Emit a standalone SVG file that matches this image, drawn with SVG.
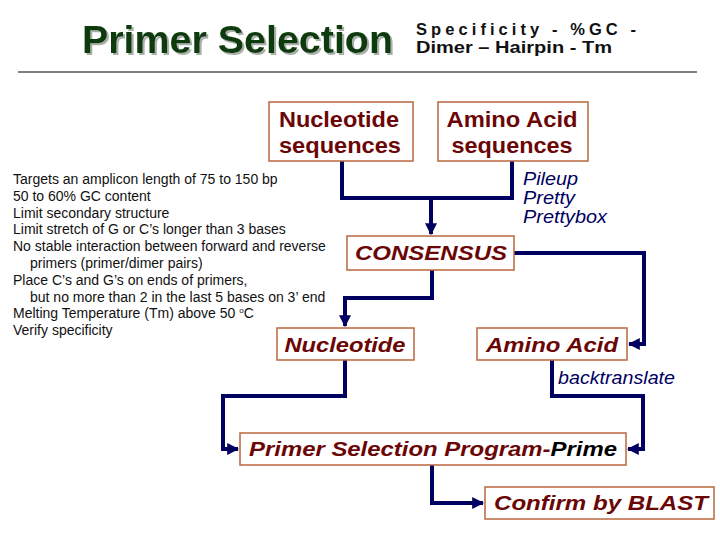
<svg xmlns="http://www.w3.org/2000/svg" width="720" height="540" viewBox="0 0 720 540">
<defs>
<marker id="ah" viewBox="0 0 10 10" refX="9" refY="5" markerWidth="3" markerHeight="3" orient="auto" markerUnits="strokeWidth">
<path d="M0,0 L10,5 L0,10 z" fill="#000060"/>
</marker>
<filter id="sh" x="-5%" y="-20%" width="110%" height="140%">
<feDropShadow dx="2" dy="2" stdDeviation="0.6" flood-color="#a8b0a8" flood-opacity="1"/>
</filter>
<style>
.box{fill:#fff;stroke:#b8683f;stroke-width:1.5}
.nt{font-family:"Liberation Sans",Arial,sans-serif;font-size:22px;font-weight:bold;fill:#6b0606;text-anchor:middle}
.bi{font-family:"Liberation Sans",Arial,sans-serif;font-size:21px;font-weight:bold;font-style:italic;fill:#6b0606;text-anchor:middle}
.con{fill:none;stroke:#000060;stroke-width:4}
.lbl{font-family:"Liberation Sans",Arial,sans-serif;font-size:18px;font-style:italic;fill:#000060}
.lst{font-family:"Liberation Sans",Arial,sans-serif;font-size:14px;fill:#111}
.sub{font-family:"Liberation Sans Narrow","Liberation Sans",Arial,sans-serif;font-size:16.5px;font-weight:bold;fill:#111}
</style>
</defs>
<rect width="720" height="540" fill="#fff"/>
<g id="title">
<text x="82" y="53" font-family="Liberation Sans,Arial,sans-serif" font-size="39" font-weight="bold" fill="#0b3a0b" textLength="311" lengthAdjust="spacingAndGlyphs" filter="url(#sh)">Primer Selection</text>
<text class="sub" x="416" y="34.5" textLength="220" lengthAdjust="spacing">Specificity - %GC -</text>
<text class="sub" x="416" y="53" textLength="196" lengthAdjust="spacingAndGlyphs">Dimer – Hairpin - Tm</text>
<line x1="18" y1="72" x2="697" y2="72" stroke="#000" stroke-width="1.2"/>
</g>
<g id="criteria">
<text class="lst" x="13" y="184">Targets an amplicon length of 75 to 150 bp</text>
<text class="lst" x="13" y="200.8">50 to 60% GC content</text>
<text class="lst" x="13" y="217.6">Limit secondary structure</text>
<text class="lst" x="13" y="234.4">Limit stretch of G or C’s longer than 3 bases</text>
<text class="lst" x="13" y="251.2">No stable interaction between forward and reverse</text>
<text class="lst" x="30" y="268">primers (primer/dimer pairs)</text>
<text class="lst" x="13" y="284.8">Place C’s and G’s on ends of primers,</text>
<text class="lst" x="30" y="301.6">but no more than 2 in the last 5 bases on 3’ end</text>
<text class="lst" x="13" y="318.4">Melting Temperature (Tm) above 50 <tspan font-size="8" dy="-5">o</tspan><tspan dy="5">C</tspan></text>
<text class="lst" x="13" y="335.2">Verify specificity</text>
</g>
<g id="connectors">
<polyline class="con" points="342,161 342,198 512,198 512,161"/>
<polyline class="con" points="431,198 431,234" marker-end="url(#ah)"/>
<polyline class="con" points="514,253 644,253 644,344 629,344" marker-end="url(#ah)"/>
<polyline class="con" points="432,270 432,298 345,298 345,326" marker-end="url(#ah)"/>
<polyline class="con" points="345,360 345,396 223,396 223,449 238,449" marker-end="url(#ah)"/>
<polyline class="con" points="552,360 552,396 643,396 643,449 628,449" marker-end="url(#ah)"/>
<polyline class="con" points="432,465 432,503 483,503" marker-end="url(#ah)"/>
</g>
<g id="labels">
<text class="lbl" x="523" y="185" textLength="55" lengthAdjust="spacingAndGlyphs">Pileup</text>
<text class="lbl" x="523" y="204" textLength="52" lengthAdjust="spacingAndGlyphs">Pretty</text>
<text class="lbl" x="523" y="223" textLength="84" lengthAdjust="spacingAndGlyphs">Prettybox</text>
<text class="lbl" x="558" y="384" textLength="117" lengthAdjust="spacingAndGlyphs">backtranslate</text>
</g>
<g id="nuc-seq">
<rect class="box" x="269" y="102" width="144" height="59"/>
<text class="nt" x="339" y="127" textLength="120" lengthAdjust="spacingAndGlyphs">Nucleotide</text>
<text class="nt" x="340" y="153" textLength="122" lengthAdjust="spacingAndGlyphs">sequences</text>
</g>
<g id="aa-seq">
<rect class="box" x="438" y="102" width="150" height="59"/>
<text class="nt" x="512" y="127" textLength="131" lengthAdjust="spacingAndGlyphs">Amino Acid</text>
<text class="nt" x="512" y="153" textLength="121" lengthAdjust="spacingAndGlyphs">sequences</text>
</g>
<g id="consensus">
<rect class="box" x="347" y="236" width="167" height="34"/>
<text class="bi" x="431" y="260" textLength="152" lengthAdjust="spacingAndGlyphs">CONSENSUS</text>
</g>
<g id="nucleotide">
<rect class="box" x="277" y="328" width="137" height="32"/>
<text class="bi" x="345" y="352" textLength="121" lengthAdjust="spacingAndGlyphs">Nucleotide</text>
</g>
<g id="amino-acid">
<rect class="box" x="477" y="328" width="150" height="32"/>
<text class="bi" x="552" y="352" textLength="132" lengthAdjust="spacingAndGlyphs">Amino Acid</text>
</g>
<g id="prime">
<rect class="box" x="240" y="433" width="386" height="32"/>
<text class="bi" x="433" y="456" textLength="368" lengthAdjust="spacingAndGlyphs">Primer Selection Program-<tspan fill="#000">Prime</tspan></text>
</g>
<g id="blast">
<rect class="box" x="485" y="487" width="229" height="32"/>
<text class="bi" x="601" y="510" textLength="214" lengthAdjust="spacingAndGlyphs">Confirm by BLAST</text>
</g>
</svg>
